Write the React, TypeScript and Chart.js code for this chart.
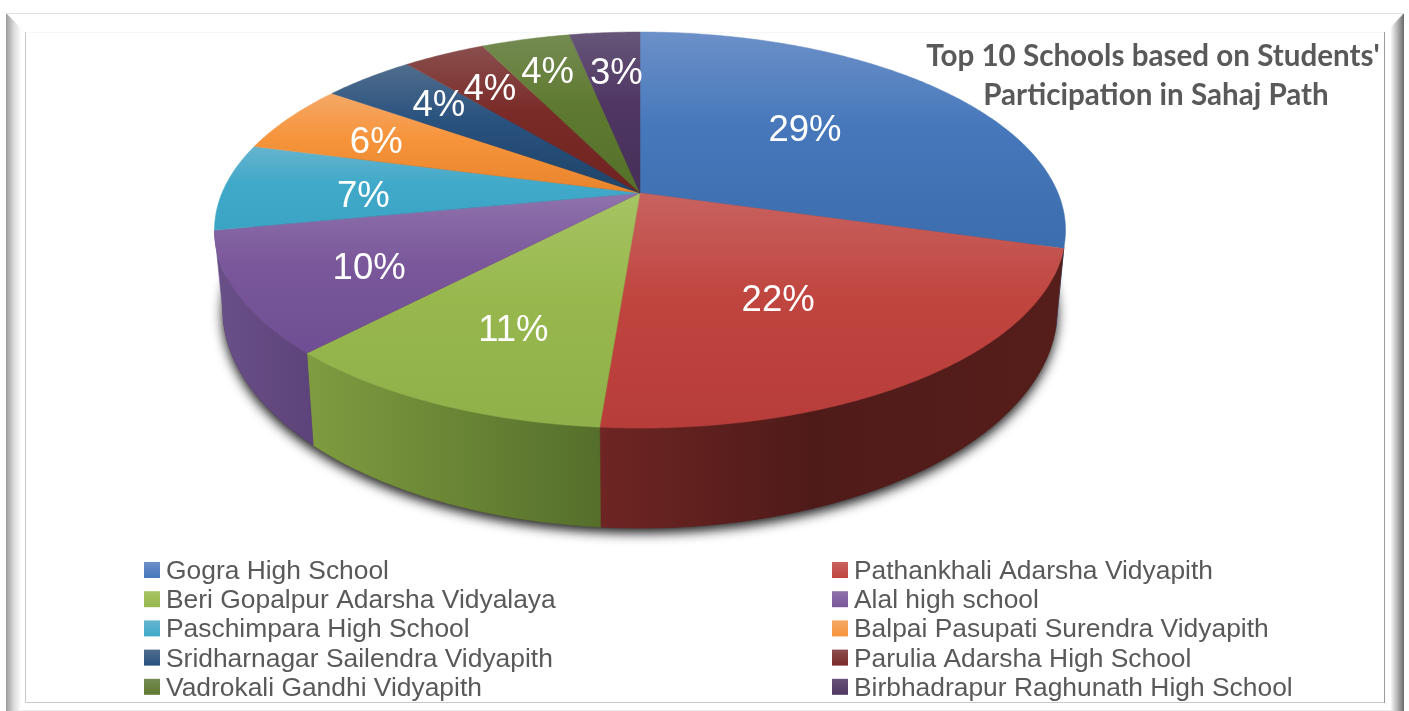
import React, { useEffect, useRef } from "react";
import { Chart, registerables } from "chart.js";

Chart.register(...registerables);

const schools = [
  "Gogra High School",
  "Pathankhali Adarsha Vidyapith",
  "Beri Gopalpur Adarsha Vidyalaya",
  "Alal high school",
  "Paschimpara High School",
  "Balpai Pasupati Surendra Vidyapith",
  "Sridharnagar Sailendra Vidyapith",
  "Parulia Adarsha High School",
  "Vadrokali Gandhi Vidyapith",
  "Birbhadrapur Raghunath High School",
];
const participation = [29.45, 21.8, 10.85, 9.9, 7.1, 5.7, 4.2, 3.75, 4.05, 3.2];
const titleLines = ["Top 10 Schools based on Students'", "Participation in Sahaj Path"];

const faceLight = ["#6c90c8", "#c8625f", "#a6c463", "#8f72ac", "#65b4ce", "#f5a866", "#506d8d", "#8a4f4d", "#748b52", "#665678"];
const faceMid = ["#4577ba", "#c0453f", "#98b84e", "#7a579a", "#40a9c9", "#f6943c", "#28517e", "#7a2b28", "#5f7a30", "#4f3663"];
const faceDark = ["#3c6eae", "#b73d3b", "#8fb04a", "#6f4e93", "#3ba4c4", "#e8842c", "#1f4468", "#6f2320", "#55702a", "#453058"];
const wallLeft = ["#2c5282", "#6e2523", "#7f9c40", "#6a5088", "#2a7f98", "#b86a20", "#173450", "#551a18", "#40561f", "#342444"];
const wallRight = ["#2c5282", "#4f1b19", "#556f2b", "#5c4379", "#2a7f98", "#b86a20", "#173450", "#551a18", "#40561f", "#342444"];
const labelReach = [0.53, 0.55, 0.66, 0.69, 0.665, 0.74, 0.72, 0.75, 0.8, 0.75];
const labelDx = [-2, -5, 0, -1, 0, 1, 1, 2, 2, 4];
const labelDy = [-5, 14, 8, 9, 8, 6, -1, 5, 7, 6];

type Plane = { a: number; b: number; c: number; k: number };
const CX = 640;
const TOP: Plane = { a: 155, b: 193, c: -0.187, k: 418 };
const BASE: Plane = { a: 161.3, b: 268, c: -0.187, k: 410 };
const WALL_FROM = 0.27;
const WALL_TO = 2.95;

function project(p: Plane, angle: number, r = 1): [number, number] {
  const X = Math.cos(angle) * r;
  const Y = Math.sin(angle) * r;
  const w = 1 + p.c * Y;
  return [CX + (p.k * X) / w, (p.a * Y + p.b) / w];
}

function arcPoints(p: Plane, from: number, to: number): [number, number][] {
  const out: [number, number][] = [];
  const n = Math.max(2, Math.ceil(Math.abs(to - from) / 0.01));
  for (let i = 0; i <= n; i++) out.push(project(p, from + ((to - from) * i) / n));
  return out;
}

function trace(ctx: CanvasRenderingContext2D, pts: [number, number][]) {
  pts.forEach(([x, y], i) => (i ? ctx.lineTo(x, y) : ctx.moveTo(x, y)));
}

const pie3d = {
  id: "pie3d",
  beforeDraw(chart: any) {
    const ctx: CanvasRenderingContext2D = chart.ctx;
    ctx.save();
    ctx.fillStyle = "#ffffff";
    ctx.fillRect(0, 0, chart.width, chart.height);

    const lg = ctx.createLinearGradient(6, 0, 24, 0);
    lg.addColorStop(0, "#9c9c9c");
    lg.addColorStop(0.45, "#dcdcdc");
    lg.addColorStop(0.85, "#ffffff");
    ctx.fillStyle = lg;
    ctx.beginPath();
    ctx.moveTo(6, 13);
    ctx.lineTo(25, 32);
    ctx.lineTo(25, 702);
    ctx.lineTo(17, 711);
    ctx.lineTo(6, 711);
    ctx.closePath();
    ctx.fill();

    const rg = ctx.createLinearGradient(1390, 0, 1404, 0);
    rg.addColorStop(0, "#ffffff");
    rg.addColorStop(0.5, "#b8b8b8");
    rg.addColorStop(1, "#6a6a6a");
    ctx.fillStyle = rg;
    ctx.beginPath();
    ctx.moveTo(1404, 13);
    ctx.lineTo(1391, 27);
    ctx.lineTo(1391, 711);
    ctx.lineTo(1404, 711);
    ctx.closePath();
    ctx.fill();

    ctx.fillStyle = "#e2e2e2";
    ctx.fillRect(6, 13, 1398, 1);
    ctx.fillStyle = "#ececec";
    ctx.fillRect(17, 710, 1374, 1);
    ctx.fillStyle = "#f7f7f7";
    ctx.fillRect(25, 32, 1360, 1);
    ctx.fillStyle = "#c9c9c9";
    ctx.fillRect(25, 32, 1, 670);
    ctx.fillRect(25, 702, 1360, 1);
    ctx.fillStyle = "#9c9c9c";
    ctx.fillRect(1384, 32, 1, 671);
    ctx.restore();
  },
  beforeDatasetsDraw(chart: any) {
    const ctx: CanvasRenderingContext2D = chart.ctx;
    const arcs = chart.getDatasetMeta(0).data;
    ctx.save();

    // soft shadow below the extruded base
    ctx.save();
    ctx.shadowColor = "rgba(0,0,0,0.9)";
    ctx.shadowBlur = 12;
    ctx.shadowOffsetY = 5;
    ctx.fillStyle = "#4f1b19";
    ctx.beginPath();
    trace(ctx, arcPoints(BASE, 0, Math.PI * 2));
    ctx.closePath();
    ctx.fill();
    ctx.restore();

    // side walls
    arcs.forEach((arc: any, i: number) => {
      const from = Math.max(arc.startAngle, WALL_FROM);
      const to = Math.min(arc.endAngle, WALL_TO);
      if (to <= from) return;
      const upper = arcPoints(TOP, from, to);
      const lower = arcPoints(BASE, from, to);
      const xs = upper.concat(lower).map((p) => p[0]);
      const g = ctx.createLinearGradient(Math.min(...xs), 0, Math.max(...xs), 0);
      g.addColorStop(0, wallLeft[i]);
      g.addColorStop(i === 1 ? 0.45 : 1, wallRight[i]);
      g.addColorStop(1, i === 1 ? "#561e1b" : wallRight[i]);
      ctx.fillStyle = g;
      ctx.strokeStyle = g;
      ctx.lineWidth = 0.6;
      ctx.beginPath();
      trace(ctx, upper.concat(lower.reverse()));
      ctx.closePath();
      ctx.fill();
      ctx.stroke();
    });

    // top faces
    arcs.forEach((arc: any, i: number) => {
      const rim = arcPoints(TOP, arc.startAngle, arc.endAngle);
      const apex: [number, number] = [CX, TOP.b];
      const ys = rim.map((p) => p[1]).concat(apex[1]);
      const g = ctx.createLinearGradient(0, Math.min(...ys), 0, Math.max(...ys));
      g.addColorStop(0, faceLight[i]);
      g.addColorStop(0.45, faceMid[i]);
      g.addColorStop(1, faceDark[i]);
      ctx.fillStyle = g;
      ctx.strokeStyle = g;
      ctx.lineWidth = 0.5;
      ctx.beginPath();
      trace(ctx, [apex, ...rim]);
      ctx.closePath();
      ctx.fill();
      ctx.stroke();
    });
    ctx.restore();
    return false;
  },
  afterDraw(chart: any) {
    const ctx: CanvasRenderingContext2D = chart.ctx;
    const arcs = chart.getDatasetMeta(0).data;
    const values: number[] = chart.data.datasets[0].data;
    const total = values.reduce((s, v) => s + v, 0);
    ctx.save();

    // percent labels
    ctx.fillStyle = "#ffffff";
    ctx.font = '36.5px "Liberation Sans"';
    ctx.textAlign = "center";
    ctx.textBaseline = "middle";
    arcs.forEach((arc: any, i: number) => {
      const [x, y] = project(TOP, (arc.startAngle + arc.endAngle) / 2, labelReach[i]);
      ctx.fillText(`${Math.round((values[i] / total) * 100)}%`, x + labelDx[i], y + labelDy[i]);
    });

    // title
    ctx.fillStyle = "#595959";
    ctx.font = "bold 29.6px Lato";
    ctx.textBaseline = "alphabetic";
    titleLines.forEach((line, i) => ctx.fillText(line, 1153 + i * 3, 66 + i * 39));

    // legend
    ctx.textAlign = "left";
    ctx.font = '26.4px "Liberation Sans"';
    (chart.data.labels as string[]).forEach((name, i) => {
      const col = i % 2;
      const row = (i - col) / 2;
      const sx = col ? 832 : 144;
      const base = 578 + row * 29.2;
      const g = ctx.createLinearGradient(0, base - 16, 0, base);
      g.addColorStop(0, faceLight[i]);
      g.addColorStop(1, faceMid[i]);
      ctx.fillStyle = g;
      ctx.fillRect(sx, base - 16, 16, 16);
      ctx.fillStyle = "#595959";
      ctx.fillText(name, sx + 22, base + 1);
    });
    ctx.restore();
  },
};

export default function App() {
  const ref = useRef<HTMLCanvasElement>(null);
  useEffect(() => {
    const chart = new Chart(ref.current as HTMLCanvasElement, {
      type: "pie",
      data: {
        labels: schools,
        datasets: [{ data: participation, backgroundColor: faceMid, borderWidth: 0 }],
      },
      options: {
        responsive: false,
        animation: false,
        events: [],
        plugins: { legend: { display: false }, tooltip: { enabled: false } },
      },
      plugins: [pie3d],
    } as any);
    return () => chart.destroy();
  }, []);
  return (
    <div style={{ position: "fixed", left: 0, top: 0, width: 1409, height: 711, background: "#fff" }}>
      <canvas ref={ref} width={1409} height={711} style={{ display: "block" }} />
    </div>
  );
}
